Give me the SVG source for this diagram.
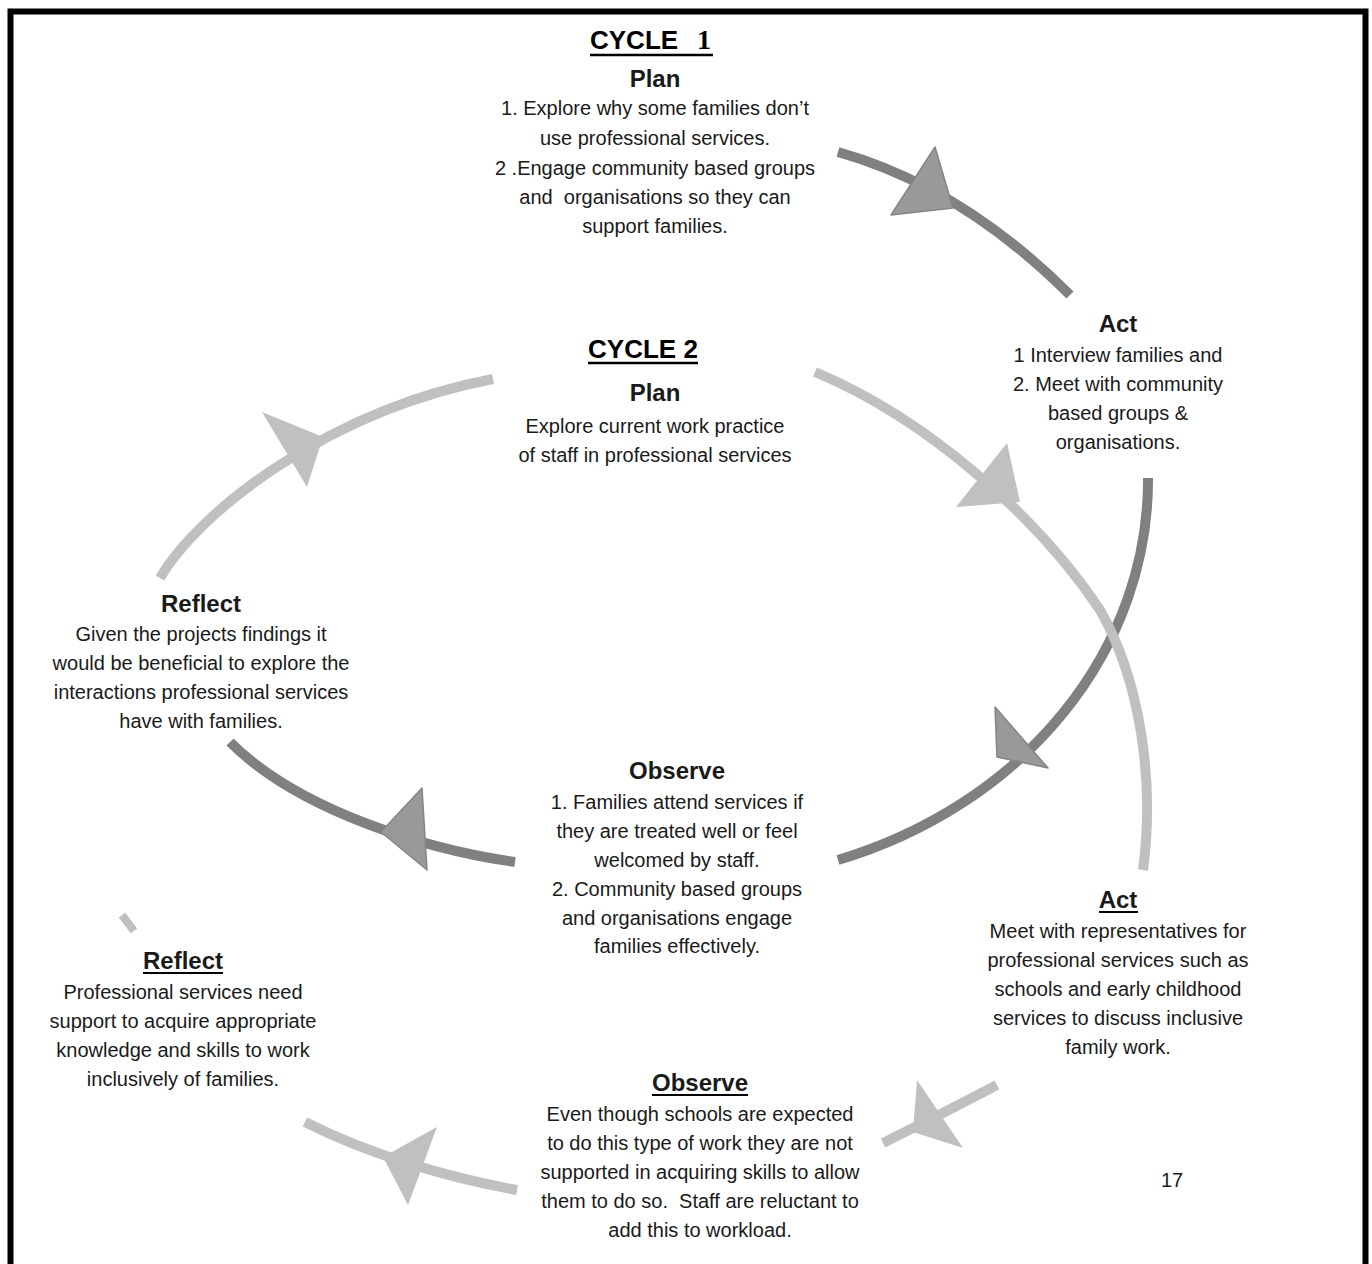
<svg xmlns="http://www.w3.org/2000/svg" width="1372" height="1264" viewBox="0 0 1372 1264">
<style>
.t{font-family:"Liberation Sans",Arial,sans-serif;font-size:20px;fill:#1a1a1a;text-anchor:middle}
.h{font-weight:bold;font-size:24px}
.cy{font-family:"Liberation Sans",Arial,sans-serif;font-weight:bold;font-size:26px;fill:#000}
.ul{stroke:#000;stroke-width:2.6}
.dark{fill:none;stroke:#808080;stroke-width:10}
.light{fill:none;stroke:#c0c0c0;stroke-width:10}
.dah{fill:#999999;stroke:#858585;stroke-width:1.5;stroke-linejoin:round}
.lah{fill:#c0c0c0}
</style>
<rect x="10.5" y="11.5" width="1355" height="1300" fill="#fff" stroke="#000" stroke-width="6"/>
<g id="connectors">
  <path class="dark" d="M838,152 Q962,187 1070,295"/>
  <polygon class="dah" points="891,215 935,147 953,208"/>
  <path class="dark" d="M1148,478 A458,401 0 0 1 838,860"/>
  <polygon class="dah" points="995,707 1048,768 997,757"/>
  <path class="dark" d="M515,862 C430,850 300,812 230,742"/>
  <polygon class="dah" points="422,788 427,870 381,832"/>
  <path class="light" d="M160,578 C200,510 330,410 493,379"/>
  <polygon class="lah" points="262,412 323,437 307,487"/>
  <path class="light" d="M815,372 C930,420 1040,520 1100,610 C1140,680 1155,780 1143,870"/>
  <polygon class="lah" points="1007,443 1020,502 956,507"/>
  <path class="light" d="M997,1085 Q940,1115 883,1143"/>
  <polygon class="lah" points="917,1080 963,1148 913,1132"/>
  <path class="light" d="M517,1190 C450,1178 370,1155 305,1122"/>
  <polygon class="lah" points="437,1127 408,1205 383,1157"/>
  <path class="light" d="M122,915 L134,931" style="stroke-width:8"/>
</g>
<g id="cycle1-title">
  <text class="cy" x="590" y="49">CYCLE<tspan x="697" style="font-family:'Liberation Serif',serif;font-size:28px">1</tspan></text>
  <line class="ul" x1="590" y1="55" x2="713" y2="55"/>
</g>
<g id="plan1">
  <text class="t h" x="655" y="87">Plan</text>
  <text class="t" x="655" y="115">1. Explore why some families don’t</text>
  <text class="t" x="655" y="145">use professional services.</text>
  <text class="t" x="655" y="175">2 .Engage community based groups</text>
  <text class="t" x="655" y="204">and&#160; organisations so they can</text>
  <text class="t" x="655" y="233">support families.</text>
</g>
<g id="act1">
  <text class="t h" x="1118" y="332">Act</text>
  <text class="t" x="1118" y="362">1 Interview families and</text>
  <text class="t" x="1118" y="391">2. Meet with community</text>
  <text class="t" x="1118" y="420">based groups &amp;</text>
  <text class="t" x="1118" y="449">organisations.</text>
</g>
<g id="cycle2-title">
  <text class="cy" x="643" y="358" text-anchor="middle">CYCLE 2</text>
  <line class="ul" x1="588" y1="363" x2="698" y2="363"/>
</g>
<g id="plan2">
  <text class="t h" x="655" y="401">Plan</text>
  <text class="t" x="655" y="433">Explore current work practice</text>
  <text class="t" x="655" y="462">of staff in professional services</text>
</g>
<g id="reflect1">
  <text class="t h" x="201" y="612">Reflect</text>
  <text class="t" x="201" y="641">Given the projects findings it</text>
  <text class="t" x="201" y="670">would be beneficial to explore the</text>
  <text class="t" x="201" y="699">interactions professional services</text>
  <text class="t" x="201" y="728">have with families.</text>
</g>
<g id="observe1">
  <text class="t h" x="677" y="779">Observe</text>
  <text class="t" x="677" y="809">1. Families attend services if</text>
  <text class="t" x="677" y="838">they are treated well or feel</text>
  <text class="t" x="677" y="867">welcomed by staff.</text>
  <text class="t" x="677" y="896">2. Community based groups</text>
  <text class="t" x="677" y="925">and organisations engage</text>
  <text class="t" x="677" y="953">families effectively.</text>
</g>
<g id="act2">
  <text class="t h" x="1118" y="908">Act</text>
  <line class="ul" x1="1099" y1="912" x2="1138" y2="912" style="stroke-width:2"/>
  <text class="t" x="1118" y="938">Meet with representatives for</text>
  <text class="t" x="1118" y="967">professional services such as</text>
  <text class="t" x="1118" y="996">schools and early childhood</text>
  <text class="t" x="1118" y="1025">services to discuss inclusive</text>
  <text class="t" x="1118" y="1054">family work.</text>
</g>
<g id="reflect2">
  <text class="t h" x="183" y="969">Reflect</text>
  <line class="ul" x1="143" y1="973" x2="223" y2="973" style="stroke-width:2"/>
  <text class="t" x="183" y="999">Professional services need</text>
  <text class="t" x="183" y="1028">support to acquire appropriate</text>
  <text class="t" x="183" y="1057">knowledge and skills to work</text>
  <text class="t" x="183" y="1086">inclusively of families.</text>
</g>
<g id="observe2">
  <text class="t h" x="700" y="1091">Observe</text>
  <line class="ul" x1="652" y1="1095" x2="748" y2="1095" style="stroke-width:2"/>
  <text class="t" x="700" y="1121">Even though schools are expected</text>
  <text class="t" x="700" y="1150">to do this type of work they are not</text>
  <text class="t" x="700" y="1179">supported in acquiring skills to allow</text>
  <text class="t" x="700" y="1208">them to do so.&#160; Staff are reluctant to</text>
  <text class="t" x="700" y="1237">add this to workload.</text>
</g>
<g id="page-number">
  <text class="t" x="1172" y="1187" style="font-size:20px">17</text>
</g>
</svg>
